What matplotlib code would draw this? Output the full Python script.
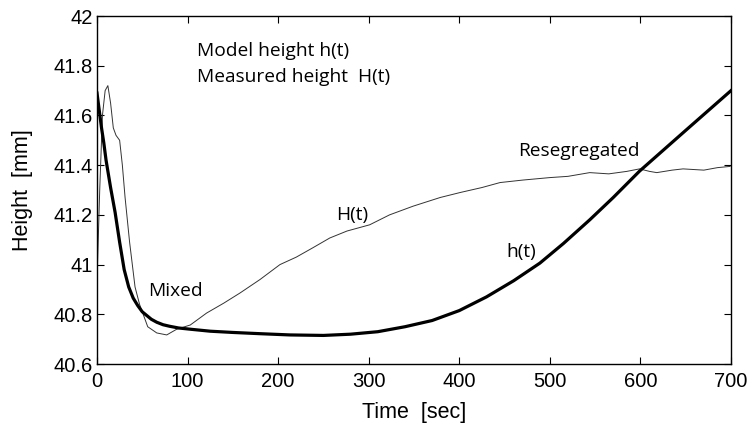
import matplotlib
matplotlib.use("Agg")
import matplotlib.pyplot as plt

# Model height h(t)
t_model = [0, 2.5, 5, 7.5, 10, 15, 20, 25, 30, 35, 40, 45, 50, 55, 60, 66, 73, 80,
           90, 103, 125, 150, 180, 213, 250, 280, 310, 340, 370, 400, 430, 460,
           489, 515, 544, 570, 599, 650, 700]
h_model = [41.69, 41.62, 41.55, 41.49, 41.42, 41.31, 41.21, 41.09, 40.98, 40.91,
           40.865, 40.835, 40.81, 40.795, 40.78, 40.768, 40.758, 40.752, 40.745,
           40.74, 40.732, 40.727, 40.722, 40.717, 40.715, 40.72, 40.73, 40.75,
           40.775, 40.815, 40.87, 40.935, 41.006, 41.085, 41.18, 41.27, 41.376,
           41.54, 41.70]

# Measured height H(t)
t_meas = [0, 3, 6, 9, 12, 15, 18, 21, 25, 28, 31, 36, 42, 47, 51, 56, 66, 77, 88,
          103, 121, 140, 158, 180, 202, 220, 238, 257, 276, 301, 323, 349, 379,
          401, 425, 445, 470, 500, 520, 544, 565, 585, 599, 610, 618, 635, 647,
          670, 685, 699]
H_meas = [40.93, 41.30, 41.60, 41.70, 41.72, 41.65, 41.55, 41.52, 41.50, 41.40,
          41.27, 41.09, 40.91, 40.84, 40.80, 40.75, 40.725, 40.717, 40.74, 40.757,
          40.805, 40.845, 40.886, 40.94, 41.0, 41.03, 41.067, 41.107, 41.135,
          41.16, 41.2, 41.235, 41.27, 41.29, 41.31, 41.33, 41.34, 41.35, 41.355,
          41.37, 41.365, 41.375, 41.385, 41.375, 41.37, 41.38, 41.385, 41.38,
          41.39, 41.395]

x_ticks = [0, 100, 200, 300, 400, 500, 600, 700]
y_ticks = [40.6, 40.8, 41.0, 41.2, 41.4, 41.6, 41.8, 42.0]
y_tick_labels = ["40.6", "40.8", "41", "41.2", "41.4", "41.6", "41.8", "42"]

plt.rcParams['font.family'] = ['Liberation Sans', 'DejaVu Sans']
ann_font = ['Open Sans', 'DejaVu Sans']

fig = plt.figure(figsize=(7.49, 4.26), dpi=100)
ax = fig.add_axes([0.1295, 0.1455, 0.8465, 0.8169])

ax.plot(t_meas, H_meas, color='#333333', lw=0.7)
ax.plot(t_model, h_model, color='black', lw=2.3, solid_joinstyle='round')

ax.set_xlim(0, 700)
ax.set_ylim(40.6, 42.0)
ax.set_xticks(x_ticks)
ax.set_yticks(y_ticks)
ax.set_yticklabels(y_tick_labels)
ax.tick_params(direction='in', length=5, width=0.8, top=True, right=True,
               labelsize=14.5)
ax.tick_params(axis='x', pad=6)
ax.tick_params(axis='y', pad=3)
for s in ax.spines.values():
    s.set_linewidth(1.0)

ax.set_xlabel("Time  [sec]", fontsize=15.5, labelpad=8)
ax.set_ylabel("Height  [mm]", fontsize=15.5, labelpad=15)

fs = 13.8
ax.text(110, 41.86, "Model height h(t)", family=ann_font, fontsize=fs,
        va='center', ha='left')
ax.text(110, 41.755, "Measured height  H(t)", family=ann_font, fontsize=fs,
        va='center', ha='left')
ax.text(56, 40.895, "Mixed", family=ann_font, fontsize=fs, va='center', ha='left')
ax.text(264, 41.2, "H(t)", family=ann_font, fontsize=fs, va='center', ha='left')
ax.text(452, 41.05, "h(t)", family=ann_font, fontsize=fs, va='center', ha='left')
ax.text(465, 41.455, "Resegregated", family=ann_font, fontsize=fs,
        va='center', ha='left')

fig.savefig("out.png", dpi=100)
